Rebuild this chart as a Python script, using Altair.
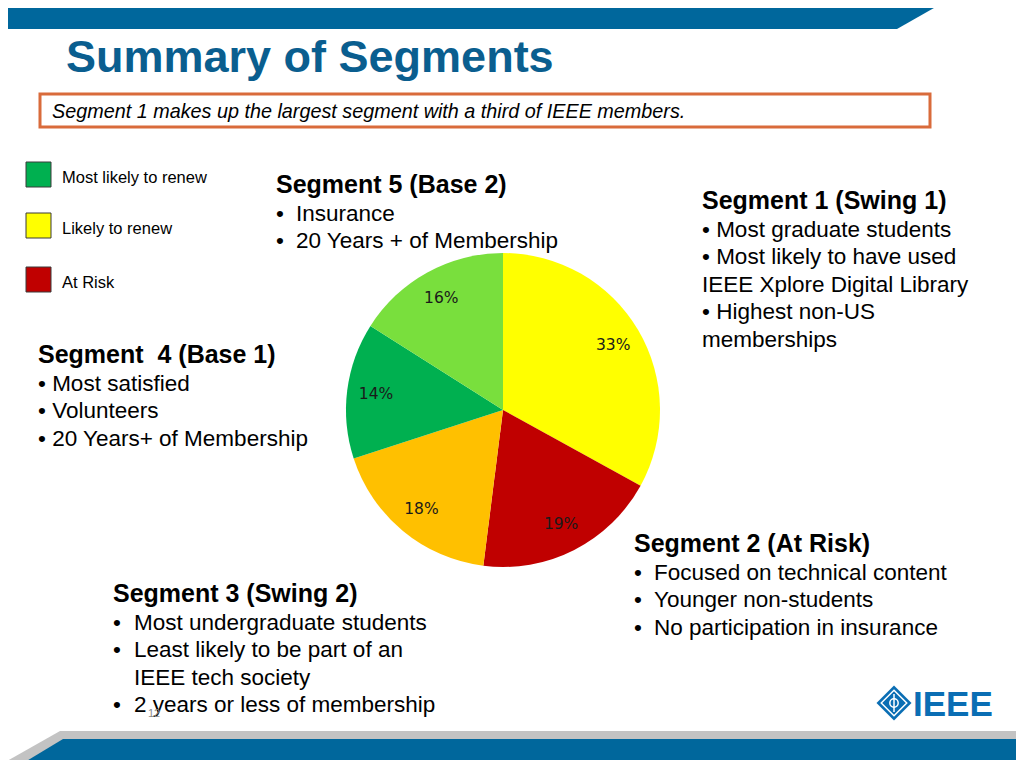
import altair as alt
import pandas as pd

# ---------------- data ----------------
segments = ["Segment 1", "Segment 2", "Segment 3", "Segment 4", "Segment 5"]
shares = [33, 19, 18, 14, 16]
share_labels = ["33%", "19%", "18%", "14%", "16%"]
slice_colors = ["#FFFF00", "#C00000", "#FFC000", "#00B050", "#79DF3D"]

legend_labels = ["Most likely to renew", "Likely to renew", "At Risk"]
legend_colors = ["#00B050", "#FFFF00", "#C00000"]

title_text = "Summary of Segments"
callout_text = "Segment 1 makes up the largest segment with a third of IEEE members."

# (kind, text): "b" = bulleted with hanging indent, "i" = indented continuation, "p" = plain
seg5_head = "Segment 5 (Base 2)"
seg5_lines = [("b", "Insurance"), ("b", "20 Years + of Membership")]
seg1_head = "Segment 1 (Swing 1)"
seg1_lines = [("p", "• Most graduate students"), ("p", "• Most likely to have used"),
              ("p", "IEEE Xplore Digital Library"), ("p", "• Highest non-US"),
              ("p", "memberships")]
seg4_head = "Segment\u00a0\u00a04 (Base 1)"
seg4_lines = [("p", "• Most satisfied"), ("p", "• Volunteers"),
              ("p", "• 20 Years+ of Membership")]
seg2_head = "Segment 2 (At Risk)"
seg2_lines = [("b", "Focused on technical content"), ("b", "Younger non-students"),
              ("b", "No participation in insurance")]
seg3_head = "Segment 3 (Swing 2)"
seg3_lines = [("b", "Most undergraduate students"), ("b", "Least likely to be part of an"),
              ("i", "IEEE tech society"), ("b", "2 years or less of membership")]
page_number = "12"
logo_text = "IEEE"

# ---------------- layout helpers ----------------
OX, OY = 8, 8
FONT = "Liberation Sans"
BLUE = "#00679C"
TITLE_BLUE = "#0A5E8F"
one = alt.Data(values=[{}])

def txt(s, x, y, size, bold=False, italic=False, color="#000000", font=FONT, align="left"):
    return alt.Chart(one).mark_text(
        text=s, align=align, baseline="alphabetic", fontSize=size,
        fontWeight="bold" if bold else "normal",
        fontStyle="italic" if italic else "normal", color=color, font=font,
    ).encode(x=alt.value(x - OX), y=alt.value(y - OY))

def block(head, lines, x_head, x_text, y0, lh=27.6, hsize=25, bsize=22.5):
    out = [txt(head, x_head, y0, hsize, bold=True)]
    for i, (kind, s) in enumerate(lines):
        y = y0 + lh * (i + 1)
        if kind == "b":
            out.append(txt("•", x_head, y, bsize))
            out.append(txt(s, x_text, y, bsize))
        elif kind == "i":
            out.append(txt(s, x_text, y, bsize))
        else:
            out.append(txt(s, x_head, y, bsize))
    return out

xs = alt.Scale(domain=[0, 1024], range=[-OX, 1024 - OX], nice=False, zero=False)
ys = alt.Scale(domain=[0, 768], range=[-OY, 768 - OY], nice=False, zero=False)

def poly(xv, yv, y2v, color):
    df = pd.DataFrame({"x": xv, "y": yv, "y2": y2v})
    return alt.Chart(df).mark_area(color=color, orient="vertical", interpolate="linear").encode(
        x=alt.X("x:Q", scale=xs, axis=None),
        y=alt.Y("y:Q", scale=ys, axis=None),
        y2="y2:Q",
    )

layers = []
# banners
layers.append(poly([0, 897, 948], [0, 0, 0], [29, 29, 0], BLUE))
layers.append(poly([0, 60, 1024], [765, 731, 731], [768, 768, 768], "#C3C3C3"))
layers.append(poly([15, 63, 1024], [768, 739, 739], [768, 768, 768], BLUE))

# title and callout box
layers.append(txt(title_text, 66, 72, 45, bold=True, color=TITLE_BLUE))
layers.append(alt.Chart(one).mark_rect(fill="white", stroke="#D96B3B", strokeWidth=3).encode(
    x=alt.value(40 - OX), x2=alt.value(930 - OX), y=alt.value(94 - OY), y2=alt.value(127 - OY)))
layers.append(txt(callout_text, 52, 118, 19.8, italic=True))

# legend
leg_tops = [162, 213, 267]
for lab, col, top in zip(legend_labels, legend_colors, leg_tops):
    layers.append(alt.Chart(one).mark_rect(fill=col, stroke="#3A3A3A", strokeWidth=1).encode(
        x=alt.value(26 - OX), x2=alt.value(51 - OX), y=alt.value(top - OY), y2=alt.value(top + 25 - OY)))
    layers.append(txt(lab, 62, top + 21, 16.5))

# pie
pie_df = pd.DataFrame({"segment": segments, "share": shares, "label": share_labels,
                       "idx": list(range(len(segments)))})
CX, CY = 503 - OX, 410 - OY
pie = alt.Chart(pie_df).mark_arc(outerRadius=157).encode(
    theta=alt.Theta("share:Q", stack=True),
    color=alt.Color("segment:N", scale=alt.Scale(domain=segments, range=slice_colors), legend=None),
    order=alt.Order("idx:Q"),
    x=alt.value(CX), y=alt.value(CY),
)
pie_labels = alt.Chart(pie_df).mark_text(radius=128, fontSize=15.5, font="DejaVu Sans",
                                         color="#1A1A1A", align="center", baseline="middle").encode(
    theta=alt.Theta("share:Q", stack=True),
    order=alt.Order("idx:Q"),
    text="label:N",
    x=alt.value(CX), y=alt.value(CY),
)
layers += [pie, pie_labels]

# segment text blocks
layers += block(seg5_head, seg5_lines, 276, 296, 193)
layers += block(seg1_head, seg1_lines, 702, 702, 209)
layers += block(seg4_head, seg4_lines, 38, 38, 363)
layers += block(seg2_head, seg2_lines, 634, 654, 552)
layers += block(seg3_head, seg3_lines, 113, 134, 602)
layers.append(txt(page_number, 148, 717, 11, color="#8A8A8A"))

# IEEE logo
LOGO = "#0A6EB4"
layers.append(alt.Chart(one).mark_point(shape="diamond", filled=True, size=1225, color=LOGO, opacity=1).encode(
    x=alt.value(894 - OX), y=alt.value(703 - OY)))
layers.append(alt.Chart(one).mark_point(shape="diamond", filled=False, size=650, color="white", strokeWidth=1.5, opacity=1).encode(
    x=alt.value(894 - OX), y=alt.value(703 - OY)))
layers.append(alt.Chart(one).mark_point(shape="circle", filled=False, size=70, color="white", strokeWidth=1.5, opacity=1).encode(
    x=alt.value(894 - OX), y=alt.value(703 - OY)))
layers.append(alt.Chart(one).mark_rule(color="white", strokeWidth=1.5).encode(
    x=alt.value(894 - OX), y=alt.value(694 - OY), y2=alt.value(712 - OY)))
layers.append(txt(logo_text, 913, 716, 35, bold=True, color=LOGO))

chart = alt.layer(*layers).properties(
    width=1024 - 2 * OX, height=768 - 2 * OY, padding=0, autosize="none", background="white"
).configure_view(strokeWidth=0)

chart.save("out.html", embed_options={"renderer": "svg", "actions": False})
